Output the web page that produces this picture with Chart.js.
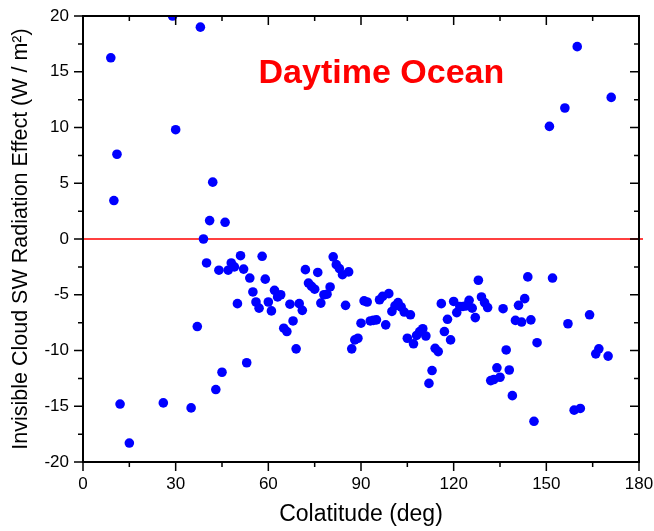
<!DOCTYPE html>
<html>
<head>
<meta charset="utf-8">
<title>Daytime Ocean</title>
<script src="https://cdn.jsdelivr.net/npm/chart.js@4/dist/chart.umd.min.js"></script>
<style>
  body { margin: 0; background: #fff; }
  #wrap { width: 654px; height: 531px; }
</style>
</head>
<body>
<div id="wrap"><canvas id="swChart" width="654" height="531"></canvas></div>
<script>
// colatitude (deg) of each point
const colatitude = [
  9, 10, 11, 12, 15, 26, 29, 30, 35, 37, 38, 39, 40, 41, 42, 43, 44, 45, 46, 47,
  48, 49, 50, 51, 52, 53, 54, 55, 56, 57, 58, 59, 60, 61, 62, 63, 64, 65, 66, 67,
  68, 69, 70, 71, 72, 73, 74, 75, 76, 77, 78, 79, 80, 81, 82, 83, 84, 85, 86, 87,
  88, 89, 90, 91, 92, 93, 94, 95, 96, 97, 98, 99, 100, 101, 102, 103, 104, 105, 106, 107,
  108, 109, 110, 111, 112, 113, 114, 115, 116, 117, 118, 119, 120, 121, 122, 123, 124, 125, 126, 127,
  128, 129, 130, 131, 132, 133, 134, 135, 136, 137, 138, 139, 140, 141, 142, 143, 144, 145, 146, 147,
  151, 152, 156, 157, 159, 160, 161, 164, 166, 167, 170, 171
];

// invisible cloud SW radiation effect (W / m2)
const swEffect = [
  16.25, 3.45, 7.6, -14.8, -18.3, -14.7, 20.0, 9.8, -15.15, -7.85, 19.0, 0.0, -2.15, 1.65, 5.1, -13.5, -2.8, -11.95, 1.5, -2.8,
  -2.15, -2.5, -5.8, -1.5, -2.7, -11.1, -3.5, -4.75, -5.65, -6.2, -1.55, -3.6, -5.65, -6.45, -4.6, -5.2, -5.0, -8.0, -8.3, -5.85,
  -7.35, -9.85, -5.8, -6.4, -2.75, -3.95, -4.25, -4.5, -3.0, -5.75, -5.0, -4.95, -4.3, -1.6, -2.3, -2.65, -3.2, -5.95, -2.95, -9.85,
  -9.05, -8.9, -7.55, -5.55, -5.65, -7.35, -7.3, -7.25, -5.45, -5.15, -7.7, -4.9, -6.5, -6.0, -5.7, -6.1, -6.55, -8.9, -6.8, -9.4,
  -8.65, -8.3, -8.05, -8.7, -12.95, -11.8, -9.8, -10.1, -5.8, -8.3, -7.2, -9.05, -5.6, -6.6, -6.05, -6.05, -6.0, -5.5, -6.2, -7.05,
  -3.7, -5.2, -5.7, -6.15, -12.7, -12.6, -11.55, -12.4, -6.25, -9.95, -11.75, -14.05, -7.3, -5.95, -7.45, -5.35, -3.4, -7.25, -16.35, -9.3,
  10.1, -3.5, 11.75, -7.6, -15.35, 17.25, -15.2, -6.8, -10.3, -9.85, -10.5, 12.7
];

// axis ranges
const xTicks = [0, 180, 30];
const yTicks = [-20, 20, 5];

const FONT = "'Liberation Sans', Arial, Helvetica, sans-serif";

// frame, ticks (outside on left/bottom, inside on top/right), zero line and the red label
const frameAndTicks = {
  id: "frameAndTicks",
  beforeDatasetsDraw(chart) {
    const { ctx, chartArea: a, scales } = chart;
    const y0 = scales.y.getPixelForValue(0);
    ctx.save();
    ctx.strokeStyle = "#ff0000";
    ctx.lineWidth = 1.3;
    ctx.beginPath();
    ctx.moveTo(a.left, y0);
    ctx.lineTo(a.right + 4, y0);
    ctx.stroke();
    ctx.restore();
  },
  afterDatasetsDraw(chart) {
    const { ctx, chartArea: a, scales } = chart;
    ctx.save();
    ctx.strokeStyle = "#000";
    ctx.lineWidth = 2;
    ctx.strokeRect(a.left, a.top, a.right - a.left, a.bottom - a.top);

    ctx.lineWidth = 1.5;
    ctx.beginPath();
    // x ticks, minor every half step
    for (let v = xTicks[0]; v <= xTicks[1]; v += xTicks[2] / 2) {
      const len = v % xTicks[2] === 0 ? 9 : 5;
      const px = scales.x.getPixelForValue(v);
      ctx.moveTo(px, a.bottom);
      ctx.lineTo(px, a.bottom + len);
      ctx.moveTo(px, a.top);
      ctx.lineTo(px, a.top + len);
    }
    // y ticks
    for (let v = yTicks[0]; v <= yTicks[1]; v += yTicks[2] / 2) {
      const len = v % yTicks[2] === 0 ? 9 : 5;
      const py = scales.y.getPixelForValue(v);
      ctx.moveTo(a.left, py);
      ctx.lineTo(a.left - len, py);
      ctx.moveTo(a.right, py);
      ctx.lineTo(a.right - len, py);
    }
    ctx.stroke();

    // label inside the plot
    ctx.fillStyle = "#ff0000";
    ctx.font = "bold 34px " + FONT;
    ctx.textAlign = "center";
    ctx.textBaseline = "alphabetic";
    ctx.fillText("Daytime Ocean", scales.x.getPixelForValue(96.6), scales.y.getPixelForValue(14));
    ctx.restore();
  }
};

const ctx = document.getElementById("swChart").getContext("2d");
new Chart(ctx, {
  type: "scatter",
  data: {
    datasets: [{
      data: colatitude.map((c, i) => ({ x: c, y: swEffect[i] })),
      backgroundColor: "#0000ff",
      borderWidth: 0,
      pointRadius: 4.8,
      clip: 0
    }]
  },
  options: {
    responsive: false,
    animation: false,
    layout: { padding: { top: 16, right: 15, left: 0, bottom: 0 } },
    plugins: {
      legend: { display: false },
      tooltip: { enabled: false }
    },
    scales: {
      x: {
        min: xTicks[0],
        max: xTicks[1],
        grid: { display: false, drawTicks: false },
        border: { display: false },
        ticks: { stepSize: xTicks[2], padding: 12, color: "#000", font: { family: FONT, size: 17 } },
        title: {
          display: true,
          text: "Colatitude (deg)",
          color: "#000",
          font: { family: FONT, size: 23 },
          padding: { top: 0, bottom: 3 }
        },
        // fixed height, and let the layout padding decide the right edge
        afterFit: s => { s.height = 69; s.paddingRight = 0; s.paddingLeft = 0; }
      },
      y: {
        min: yTicks[0],
        max: yTicks[1],
        grid: { display: false, drawTicks: false },
        border: { display: false },
        ticks: { stepSize: yTicks[2], padding: 14, color: "#000", font: { family: FONT, size: 17 } },
        title: {
          display: true,
          text: "Invisible Cloud SW Radiation Effect (W / m²)",
          color: "#000",
          font: { family: FONT, size: 21.5 },
          padding: { top: 8, bottom: 0 }
        },
        afterFit: s => { s.width = 83; s.paddingTop = 0; s.paddingBottom = 0; }
      }
    }
  },
  plugins: [frameAndTicks]
});
</script>
</body>
</html>
